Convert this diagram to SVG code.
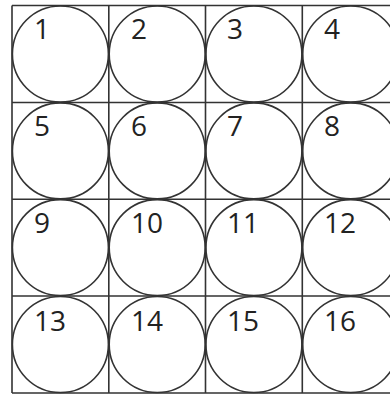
<svg xmlns="http://www.w3.org/2000/svg" width="390" height="395" viewBox="0 0 390 395">
<style>
.g{stroke:#333;stroke-width:1.6;fill:none}
.c{stroke:#333;stroke-width:1.6;fill:none}
.t{font-family:"Open Sans",sans-serif;font-size:28px;fill:#222}
</style>
<rect width="390" height="395" fill="#fff"/>
<g id="connectors">
<path class="g" d="M12 5.5H399M12 102.5H399M12 199.3H399M12 296H399M12 393H399M12 5.5V393M108.8 5.5V393M205.5 5.5V393M302.3 5.5V393M399 5.5V393"/>
</g>
<g id="n1"><circle class="c" cx="60.4" cy="54" r="48"/><text class="t" x="34" y="39">1</text></g>
<g id="n2"><circle class="c" cx="157.2" cy="54" r="48"/><text class="t" x="131" y="39">2</text></g>
<g id="n3"><circle class="c" cx="253.9" cy="54" r="48"/><text class="t" x="227" y="39">3</text></g>
<g id="n4"><circle class="c" cx="350.7" cy="54" r="48"/><text class="t" x="324" y="39">4</text></g>
<g id="n5"><circle class="c" cx="60.4" cy="150.9" r="48"/><text class="t" x="34" y="136">5</text></g>
<g id="n6"><circle class="c" cx="157.2" cy="150.9" r="48"/><text class="t" x="131" y="136">6</text></g>
<g id="n7"><circle class="c" cx="253.9" cy="150.9" r="48"/><text class="t" x="227" y="136">7</text></g>
<g id="n8"><circle class="c" cx="350.7" cy="150.9" r="48"/><text class="t" x="324" y="136">8</text></g>
<g id="n9"><circle class="c" cx="60.4" cy="247.6" r="48"/><text class="t" x="34" y="233">9</text></g>
<g id="n10"><circle class="c" cx="157.2" cy="247.6" r="48"/><text class="t" x="131" y="233">10</text></g>
<g id="n11"><circle class="c" cx="253.9" cy="247.6" r="48"/><text class="t" x="227" y="233">11</text></g>
<g id="n12"><circle class="c" cx="350.7" cy="247.6" r="48"/><text class="t" x="324" y="233">12</text></g>
<g id="n13"><circle class="c" cx="60.4" cy="344.5" r="48"/><text class="t" x="34" y="331">13</text></g>
<g id="n14"><circle class="c" cx="157.2" cy="344.5" r="48"/><text class="t" x="131" y="331">14</text></g>
<g id="n15"><circle class="c" cx="253.9" cy="344.5" r="48"/><text class="t" x="227" y="331">15</text></g>
<g id="n16"><circle class="c" cx="350.7" cy="344.5" r="48"/><text class="t" x="324" y="331">16</text></g>
</svg>
